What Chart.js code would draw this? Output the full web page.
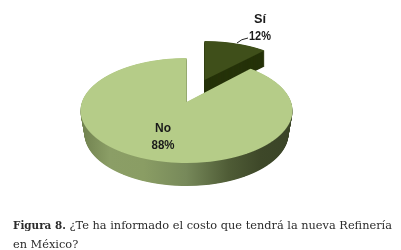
<!DOCTYPE html>
<html>
<head>
<meta charset="utf-8">
<script src="https://cdn.jsdelivr.net/npm/chart.js@4"></script>
<style>
  html, body { margin: 0; padding: 0; background: #fff; overflow: hidden; }
  #wrap { position: relative; width: 401px; height: 250px; }
  #chart { filter: blur(0.3px); }
  #caption { position: absolute; left: 13px; top: 215.5px; width: 385px; margin: 0;
    font: 11.35px/19.5px "DejaVu Serif", serif; color: #2b2b2b; white-space: nowrap; }
  #caption b { font-size: 10.4px; }
</style>
</head>
<body>
<div id="wrap">
  <canvas id="chart" width="401" height="250"></canvas>
  <p id="caption"><b>Figura 8.</b> ¿Te ha informado el costo que tendrá la nueva Refinería<br>en México?</p>
</div>
<script>
const categories = ['Sí', 'No'];
const values = [12, 88];
const topColors = ['#3f4f1a', '#b5cc88'];

// perspective of the tilted pie, one per slice (the Sí slice is pulled out)
const views = [
  { cx: 204.5, y0: 80, a: 98, b: 45.3, p: -0.162, depth: 16, shrink: 0 },
  { cx: 186.5, y0: 102, a: 104.6, b: 51.1, p: -0.162, depth: 23, shrink: 4 }
];
const labelSpots = [[260, 19], [163, 128]];
const nameWidths = [12, 16];
const percentWidths = [22, 23];

// draws one arc row by row, each row with its own scale
function drawTilted(ctx, arc, view, dy, dShrink, wallStops, flat) {
  const R = arc.outerRadius;
  const a = view.a - dShrink;
  const top = Math.floor(view.y0 + dy - view.b / (1 - view.p));
  const bottom = Math.ceil(view.y0 + dy + view.b / (1 + view.p));
  const saved = arc.options;
  for (let Y = top; Y <= bottom; Y++) {
    const d = Y + 0.5 - view.y0 - dy;
    const v = d / (view.b - view.p * d);
    if (Math.abs(v) > 1.1) continue;
    const w = 1 + view.p * v;
    const sx = a / (w * R);
    const sy = view.b / (w * w * R);
    const tx = view.cx - sx * arc.x;
    const ty = Y + 0.5 - sy * (arc.y + R * v);
    let fill = flat;
    if (wallStops) {
      fill = ctx.createLinearGradient((80 - tx) / sx, 0, (292 - tx) / sx, 0);
      wallStops.forEach(s => fill.addColorStop(s[0], s[1]));
    }
    arc.options = Object.assign({}, saved, { backgroundColor: fill });
    ctx.save();
    ctx.beginPath();
    ctx.rect(0, Y, 401, 1);
    ctx.clip();
    ctx.setTransform(sx, 0, 0, sy, tx, ty);
    arc.draw(ctx);
    ctx.restore();
  }
  arc.options = saved;
}

const tiltPie = {
  id: 'tiltPie',
  beforeDatasetsDraw(chart) {
    const ctx = chart.ctx;
    const arcs = chart.getDatasetMeta(0).data;
    const noWall = [[0, '#6f804e'], [0.14, '#8b9e66'], [0.3, '#8a9d64'], [0.5, '#77895a'], [0.7, '#4f5c36'], [0.85, '#3e4829'], [1, '#3a4427']];
    arcs.forEach((arc, i) => {
      const view = views[i];
      for (let k = view.depth; k >= 0.5; k -= 0.5) {
        const shrink = view.shrink * k / view.depth;
        if (i === 0) drawTilted(ctx, arc, view, k, shrink, null, '#26330a');
        else drawTilted(ctx, arc, view, k, shrink, noWall, null);
      }
      drawTilted(ctx, arc, view, 0, 0, null, topColors[i]);
    });

    // labels
    ctx.save();
    ctx.fillStyle = '#1a1a1a';
    ctx.font = 'bold 13.5px "Liberation Sans", sans-serif';
    ctx.textAlign = 'center';
    ctx.textBaseline = 'middle';
    categories.forEach((c, i) => {
      const total = values.reduce((s, x) => s + x, 0);
      ctx.fillText(c, labelSpots[i][0], labelSpots[i][1], nameWidths[i]);
      ctx.fillText(Math.round(values[i] / total * 100) + '%', labelSpots[i][0], labelSpots[i][1] + 17, percentWidths[i]);
    });
    // leader line of the Sí label
    ctx.strokeStyle = '#222';
    ctx.lineWidth = 1;
    ctx.beginPath();
    ctx.moveTo(237, 43);
    ctx.quadraticCurveTo(241, 39, 248, 38);
    ctx.stroke();
    ctx.restore();
    return false;
  }
};

new Chart(document.getElementById('chart'), {
  type: 'pie',
  data: {
    labels: categories,
    datasets: [{ data: values, backgroundColor: topColors, borderWidth: 0 }]
  },
  options: {
    responsive: false,
    animation: false,
    layout: { padding: 10 },
    plugins: { legend: { display: false }, tooltip: { enabled: false } }
  },
  plugins: [tiltPie]
});
</script>
</body>
</html>
